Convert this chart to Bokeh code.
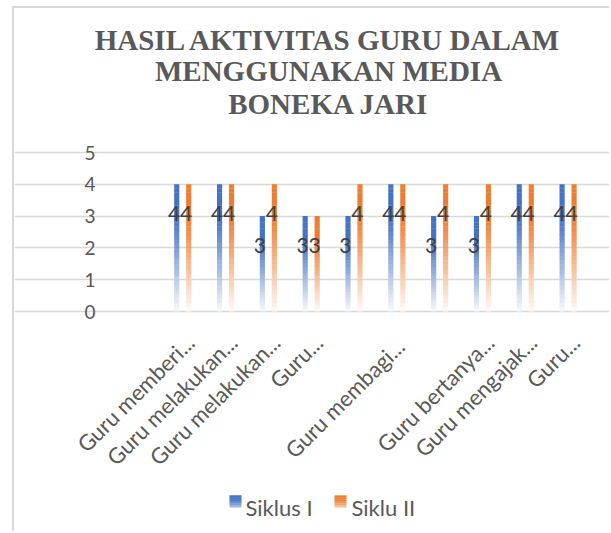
import numpy as np
from bokeh.plotting import figure
from bokeh.models import Range1d, FixedTicker, ColumnDataSource
from bokeh.embed import file_html
from bokeh.resources import INLINE
from bokeh.core.properties import value

# ---------------- data ----------------
title_lines = ["HASIL AKTIVITAS GURU DALAM", "MENGGUNAKAN MEDIA", "BONEKA JARI"]
categories = ["", "Guru memberi...", "Guru melakukan...", "Guru melakukan...", "Guru...",
              "", "Guru  membagi...", "", "Guru bertanya...", "Guru mengajak...", "Guru..."]
siklus_1 = [None, 4, 4, 3, 3, 3, 4, 3, 3, 4, 4]
siklus_2 = [None, 4, 4, 4, 3, 4, 4, 4, 4, 4, 4]
series_names = ["Siklus I", "Siklu II"]
y_ticks = [0, 1, 2, 3, 4, 5]

# ---------------- layout helpers (image pixel -> data) ----------------
OX, OY = 14, 8            # image coords of the canvas origin
W, H = 597, 525
PL, PR, PT, PB = 118, 589, 152, 311   # category plot area (image coords)
x_unit = (PR - PL) / 11.0
y_unit = (PB - PT) / 5.0

def px(ix):
    return 0.5 + (ix - PL) / x_unit

def py(iy):
    return 5 - (iy - PT) / y_unit

p = figure(width=W, height=H,
           x_range=Range1d(px(OX), px(OX + W)), y_range=Range1d(py(OY + H), py(OY)),
           output_backend="svg", toolbar_location=None,
           min_border_left=0, min_border_right=0, min_border_top=0, min_border_bottom=0)
p.styles = {"margin-left": "12px", "margin-top": "6px",
            "border-left": "2px solid #d9d9d9", "border-top": "2px solid #d9d9d9"}
p.outline_line_color = None
p.background_fill_color = "white"
p.border_fill_color = "white"
p.xaxis.visible = False
p.yaxis.visible = False

# grid (only over the category area)
p.xgrid.grid_line_color = None
p.ygrid.ticker = FixedTicker(ticks=y_ticks)
p.ygrid.bounds = (0.5, 11.5)
p.ygrid.grid_line_color = "#d9d9d9"
p.ygrid.grid_line_width = 1.5

# y tick labels
p.text(x=[px(95)] * len(y_ticks), y=y_ticks, text=[str(t) for t in y_ticks],
       text_align="right", text_baseline="middle", text_font=value("Lato"),
       text_font_size="19px", text_color="#595959")

# x category labels (rotated 45 degrees, end anchored under each category)
cat_x = [i + 1 + 7.5 / x_unit for i in range(len(categories))]
p.text(x=cat_x, y=[py(338)] * len(categories), text=categories, angle=np.pi / 4,
       text_align="right", text_baseline="middle", text_font=value("Lato"),
       text_font_size="22px", text_color="#595959")

# ---------------- bars with vertical gradient ----------------
colors = ["#4472C4", "#ED7D31"]
offsets = [-0.14, 0.14]
bar_w = 0.12
N = 30

def mix(hexc, a):
    r, g, b = int(hexc[1:3], 16), int(hexc[3:5], 16), int(hexc[5:7], 16)
    r = int(round(255 + (r - 255) * a)); g = int(round(255 + (g - 255) * a)); b = int(round(255 + (b - 255) * a))
    return "#%02x%02x%02x" % (r, g, b)

for vals, col, off in zip([siklus_1, siklus_2], colors, offsets):
    xs, bots, tops, fills = [], [], [], []
    for i, v in enumerate(vals):
        if v is None:
            continue
        for k in range(N):
            f0, f1 = k / N, (k + 1) / N
            a = min(1.0, 0.04 + 1.3 * (f0 + f1) / 2)
            xs.append(i + 1 + off)
            bots.append(v * f0)
            tops.append(min(v, v * f1 + 0.01))
            fills.append(mix(col, a))
    src = ColumnDataSource(dict(x=xs, bottom=bots, top=tops, fill=fills))
    p.vbar(x="x", bottom="bottom", top="top", width=bar_w, fill_color="fill",
           line_color=None, source=src)

# data labels
lx, ly, lt = [], [], []
for vals, off in zip([siklus_1, siklus_2], offsets):
    for i, v in enumerate(vals):
        if v is None:
            continue
        lx.append(i + 1 + off - 0.06)
        ly.append(v - 0.93)
        lt.append(str(v))
p.text(x=lx, y=ly, text=lt, text_align="center", text_baseline="middle",
       text_font=value("Lato"), text_font_size="21px", text_color="#404040")

# ---------------- title ----------------
p.text(x=[px(328)] * 3, y=[py(b) for b in (39.5, 70.7, 103)], text=title_lines,
       text_align="center", text_baseline="alphabetic",
       text_font=value("Liberation Serif"), text_font_style="bold",
       text_font_size="29px", text_color="#595959")

# ---------------- legend (gradient swatches + labels) ----------------
sw_left = [229, 334]
txt_left = [245, 351]
sw_top, sw_bot = 495, 507
NS = 6
for name, col, sl, tl in zip(series_names, colors, sw_left, txt_left):
    xs, bots, tops, fills = [], [], [], []
    for k in range(NS):
        f0, f1 = k / NS, (k + 1) / NS
        xs.append(px(sl + 6))
        bots.append(py(sw_bot) + (py(sw_top) - py(sw_bot)) * f0)
        tops.append(py(sw_bot) + (py(sw_top) - py(sw_bot)) * f1 + 0.005)
        fills.append(mix(col, min(1.0, 0.45 + 0.9 * (f0 + f1) / 2)))
    p.vbar(x=xs, bottom=bots, top=tops, width=12 / x_unit, fill_color=fills, line_color=None)
    p.text(x=[px(tl)], y=[py(506.5)], text=[name], text_align="left",
           text_baseline="alphabetic", text_font=value("Lato"),
           text_font_size="22px", text_color="#595959")

open("out.html", "w").write(file_html(p, INLINE))
